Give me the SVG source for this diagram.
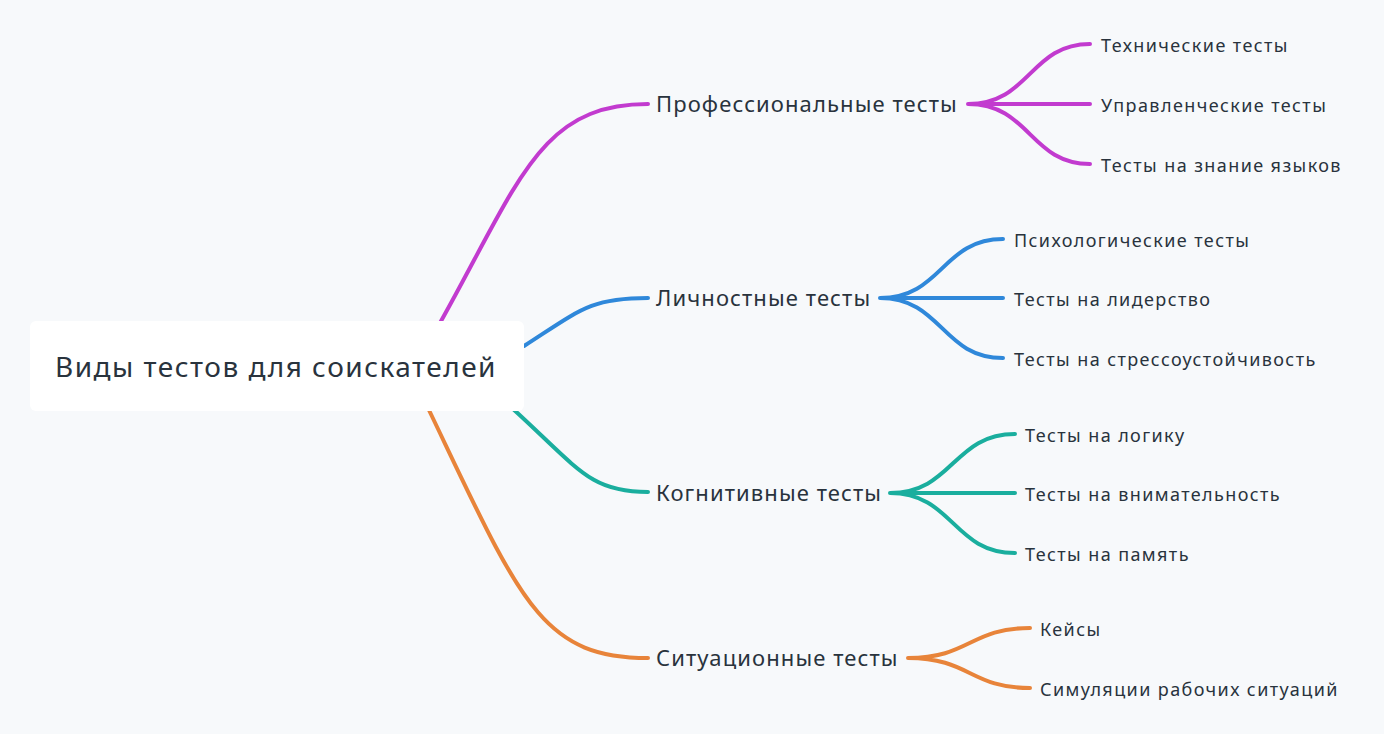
<svg xmlns="http://www.w3.org/2000/svg" width="1384" height="734" viewBox="0 0 1384 734">
<style>
text{font-family:"Noto Sans","Liberation Sans",sans-serif;fill:#29333d}
.l1{font-size:22px;letter-spacing:1.1px}.l2{font-size:18px;letter-spacing:1.4px}
path{fill:none;stroke-width:4;stroke-linecap:round}
.m{stroke:#c23bcf}.b{stroke:#2f88da}.t{stroke:#1aae9e}.o{stroke:#e8843a}
</style>
<rect width="1384" height="734" fill="#f7f9fb"/>
<g id="connectors">
<path class="m" d="M440,323 C520,180 540,104 648,104"/>
<path class="b" d="M524,346 C580,310 590,298 648,298"/>
<path class="t" d="M512,408 C580,470 590,492 648,492"/>
<path class="o" d="M428,408 C520,600 540,658 648,658"/>
<path class="m" d="M968,104 C1030,104 1030,44 1090,44 M968,104 L1090,104 M968,104 C1030,104 1030,164 1090,164"/>
<path class="b" d="M880,298 C942,298 942,239 1003,239 M880,298 L1003,298 M880,298 C942,298 942,358 1003,358"/>
<path class="t" d="M890,493 C953,493 953,434 1015,434 M890,493 L1015,493 M890,493 C953,493 953,553 1015,553"/>
<path class="o" d="M908,658 C970,658 970,628 1030,628 M908,658 C970,658 970,688 1030,688"/>
</g>
<g id="root"><rect x="30" y="321" width="494" height="90" rx="6" fill="#fff"/><text x="55" y="377" font-size="28" letter-spacing="1.5">Виды тестов для соискателей</text></g>
<g id="n1"><text class="l1" x="656" y="112">Профессиональные тесты</text></g>
<g id="n2"><text class="l1" x="656" y="306">Личностные тесты</text></g>
<g id="n3"><text class="l1" x="656" y="501">Когнитивные тесты</text></g>
<g id="n4"><text class="l1" x="656" y="666">Ситуационные тесты</text></g>
<g id="leaves">
<text class="l2" x="1101" y="52">Технические тесты</text>
<text class="l2" x="1101" y="112">Управленческие тесты</text>
<text class="l2" x="1101" y="172">Тесты на знание языков</text>
<text class="l2" x="1014" y="247">Психологические тесты</text>
<text class="l2" x="1014" y="306">Тесты на лидерство</text>
<text class="l2" x="1014" y="366">Тесты на стрессоустойчивость</text>
<text class="l2" x="1025" y="442">Тесты на логику</text>
<text class="l2" x="1025" y="501">Тесты на внимательность</text>
<text class="l2" x="1025" y="561">Тесты на память</text>
<text class="l2" x="1040" y="636">Кейсы</text>
<text class="l2" x="1040" y="696">Симуляции рабочих ситуаций</text>
</g>
</svg>
